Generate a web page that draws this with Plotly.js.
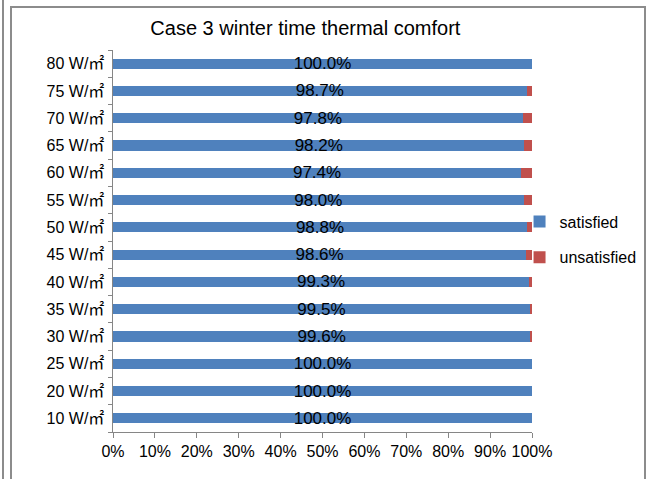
<!DOCTYPE html>
<html>
<head>
<meta charset="utf-8">
<script src="https://cdn.plot.ly/plotly-3.0.1.min.js"></script>
<style>
  html, body { margin: 0; padding: 0; background: #ffffff; }
  #wrap { position: relative; width: 647px; height: 479px; overflow: hidden; }
  #lineA { position: absolute; left: 2px; top: 0; width: 2px; height: 479px; background: #8c8c8c; }
  #boxB { position: absolute; left: 10px; top: 6px; width: 632px; height: 480px;
          border-left: 2px solid #8c8c8c; border-top: 2px solid #8c8c8c; border-right: 2px solid #8c8c8c; }
  #chart { position: absolute; left: 0; top: 0; width: 647px; height: 479px; }
</style>
</head>
<body>
<div id="wrap">
  <div id="lineA"></div>
  <div id="boxB"></div>
  <div id="chart"></div>
</div>
<script>
// Categories (bottom to top)
const categories = ["10 W/㎡", "20 W/㎡", "25 W/㎡", "30 W/㎡", "35 W/㎡", "40 W/㎡", "45 W/㎡",
                    "50 W/㎡", "55 W/㎡", "60 W/㎡", "65 W/㎡", "70 W/㎡", "75 W/㎡", "80 W/㎡"];
// Share satisfied (%)
const satisfied = [100.0, 100.0, 100.0, 99.6, 99.5, 99.3, 98.6, 98.8, 98.0, 97.4, 98.2, 97.8, 98.7, 100.0];
// Share unsatisfied (%)
const unsatisfied = [0.0, 0.0, 0.0, 0.4, 0.5, 0.7, 1.4, 1.2, 2.0, 2.6, 1.8, 2.2, 1.3, 0.0];
const xTickVals = [0, 10, 20, 30, 40, 50, 60, 70, 80, 90, 100];
const xTickText = ["0%", "10%", "20%", "30%", "40%", "50%", "60%", "70%", "80%", "90%", "100%"];

const fontFam = "Liberation Sans, Arial, sans-serif";
const tickFam = "Liberation Sans, Noto Sans CJK SC, sans-serif";

const traces = [
  {
    type: "bar", orientation: "h", name: "satisfied", legendgroup: "s",
    y: categories, x: satisfied,
    marker: { color: "#4f81bd" },
    text: satisfied.map(v => v.toFixed(1) + "%"),
    textposition: "inside", insidetextanchor: "middle",
    constraintext: "none", textangle: 0,
    textfont: { family: fontFam, size: 17, color: "#000000" },
    hoverinfo: "none"
  },
  {
    type: "bar", orientation: "h", name: "unsatisfied", legendgroup: "u",
    y: categories, x: unsatisfied,
    marker: { color: "#c0504d" },
    textposition: "none",
    hoverinfo: "none"
  }
];

const layout = {
  width: 647, height: 479,
  paper_bgcolor: "rgba(0,0,0,0)", plot_bgcolor: "rgba(0,0,0,0)",
  margin: { l: 113, r: 115, t: 50, b: 47, pad: 0, autoexpand: false },
  barmode: "stack", bargap: 0.63,
  font: { family: fontFam, size: 16, color: "#000000" },
  title: {
    text: "Case 3 winter time thermal comfort",
    font: { family: fontFam, size: 20, color: "#000000" },
    x: 0.472, xref: "container", xanchor: "center",
    y: 0.942, yref: "container", yanchor: "middle"
  },
  xaxis: {
    range: [0, 100], tickmode: "array", tickvals: xTickVals, ticktext: xTickText,
    showgrid: false, zeroline: false, showline: true, linecolor: "#868686", linewidth: 1,
    ticks: "outside", ticklen: 5, tickcolor: "#868686", tickwidth: 1,
    tickfont: { family: fontFam, size: 16, color: "#000000" },
    automargin: false, fixedrange: true
  },
  yaxis: {
    type: "category", categoryorder: "array", categoryarray: categories,
    showgrid: false, zeroline: false, showline: true, linecolor: "#868686", linewidth: 1,
    ticks: "outside", ticklen: 4, tickcolor: "#868686", tickwidth: 1, tickson: "boundaries",
    tickfont: { family: tickFam, size: 16, color: "#000000" },
    ticksuffix: " ",
    automargin: false, fixedrange: true
  },
  showlegend: true,
  legend: {
    x: 0.803, xref: "container", xanchor: "left", y: 0.5, yref: "container", yanchor: "middle",
    font: { family: fontFam, size: 16, color: "#000000" },
    bgcolor: "rgba(0,0,0,0)", itemwidth: 30, tracegroupgap: 12,
    traceorder: "grouped"
  }
};

Plotly.newPlot("chart", traces, layout, { displayModeBar: false, staticPlot: true });
</script>
</body>
</html>
